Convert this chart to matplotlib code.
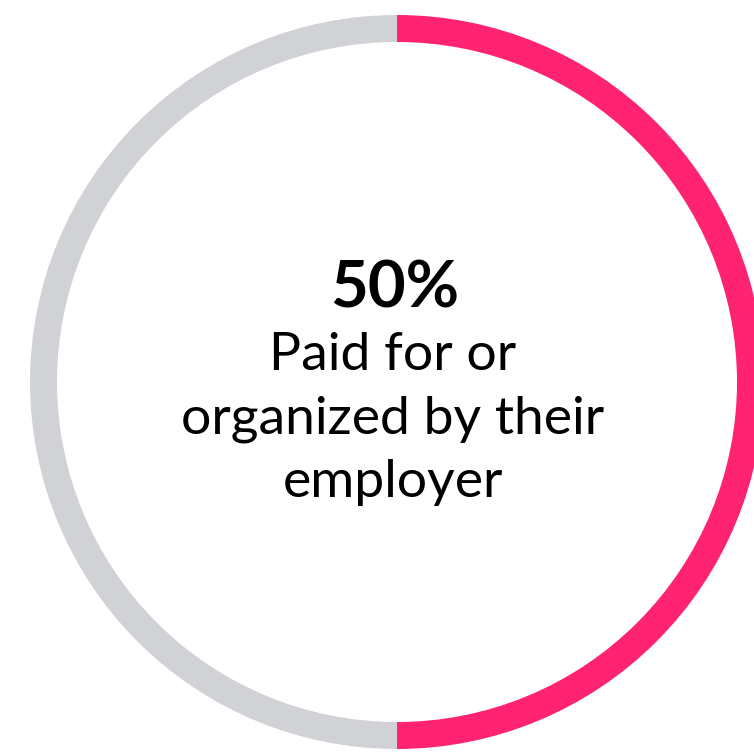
import matplotlib.pyplot as plt

# share of respondents
labels = ['Employer', 'Other']
shares = [50, 50]
colors = ['#ff2371', '#d1d2d6']
headline = '50%'
caption = ['Paid for or', 'organized by their', 'employer']

W = 754
fig = plt.figure(figsize=(7.54, 7.54), dpi=100)
ax = fig.add_axes([0, 0, 1, 1])

# ring, pink half starts at 12 o'clock and runs clockwise
ax.pie(shares, colors=colors, startangle=90, counterclock=False,
       center=(397, W - 382), radius=367,
       wedgeprops=dict(width=27, linewidth=0), frame=True)
ax.set_xlim(0, W)
ax.set_ylim(0, W)
ax.set_aspect('equal')
ax.axis('off')

ax.text(395, W - 307, headline, ha='center', va='baseline',
        fontsize=47, fontweight='bold', family='Lato', color='black')

# caption lines, one per baseline
for i, line in enumerate(caption):
    ax.text(393, W - (370 + 63.5 * i), line, ha='center', va='baseline',
            fontsize=38.5, fontweight='normal', family='Lato', color='black')

fig.savefig('out.png', dpi=100)
